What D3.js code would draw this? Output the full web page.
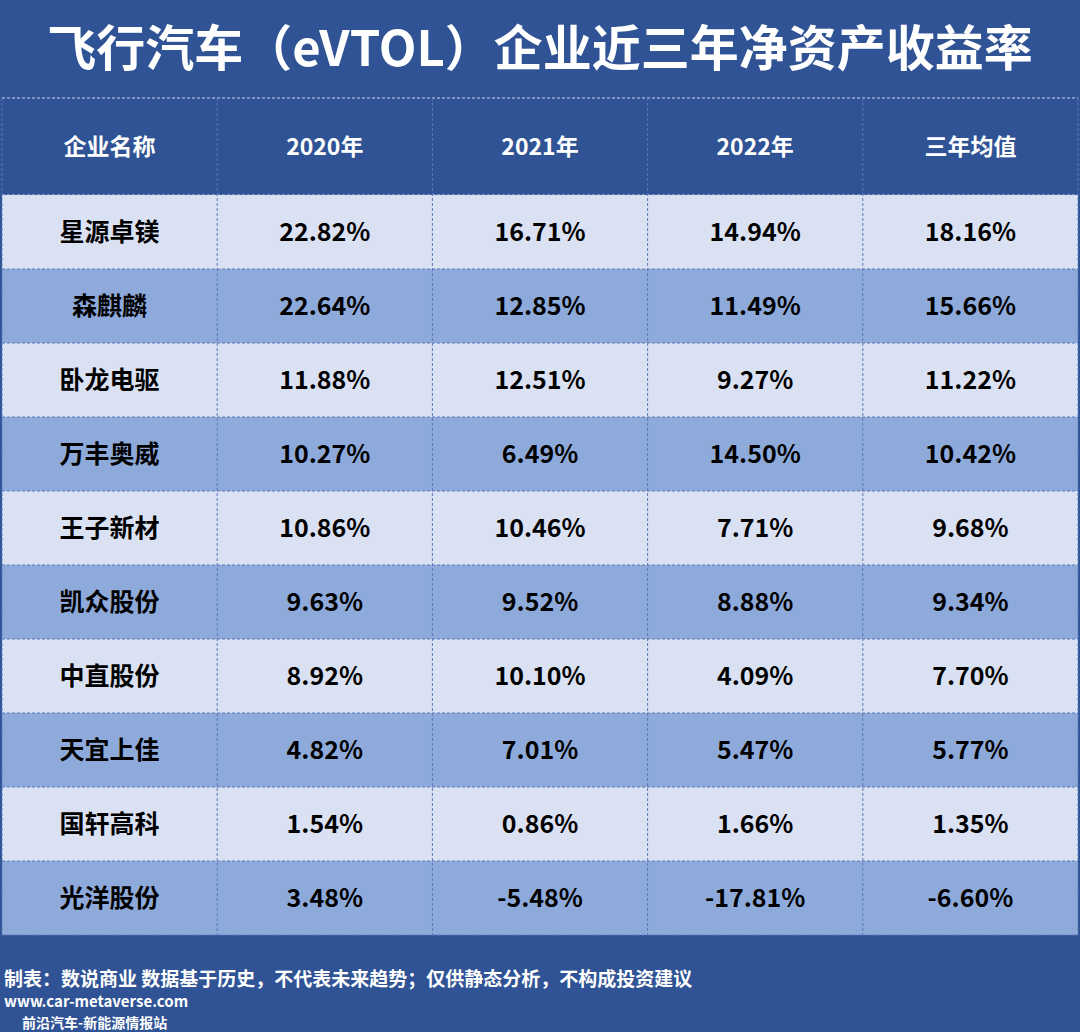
<!DOCTYPE html><html><head><meta charset="utf-8">
<script src="https://cdn.jsdelivr.net/npm/d3@7"></script>
<style>body{margin:0;background:#2f5395}</style></head><body>
<script>
const columns=["企业名称","2020年","2021年","2022年","三年均值"];
const companies=["星源卓镁","森麒麟","卧龙电驱","万丰奥威","王子新材","凯众股份","中直股份","天宜上佳","国轩高科","光洋股份"];
const v2020=["22.82%","22.64%","11.88%","10.27%","10.86%","9.63%","8.92%","4.82%","1.54%","3.48%"];
const v2021=["16.71%","12.85%","12.51%","6.49%","10.46%","9.52%","10.10%","7.01%","0.86%","-5.48%"];
const v2022=["14.94%","11.49%","9.27%","14.50%","7.71%","8.88%","4.09%","5.47%","1.66%","-17.81%"];
const vAvg=["18.16%","15.66%","11.22%","10.42%","9.68%","9.34%","7.70%","5.77%","1.35%","-6.60%"];
const W=1080,H=1032;
const font="'Noto Sans CJK SC','Open Sans',sans-serif";
const svg=d3.select("body").append("svg").attr("width",W).attr("height",H);
svg.append("rect").attr("width",W).attr("height",H).attr("fill","#2f5395");
svg.append("text").attr("x",W/2).attr("y",66).attr("text-anchor","middle").attr("fill","#fff")
 .attr("font-family",font).attr("font-weight",700).attr("font-size",49).text("飞行汽车（eVTOL）企业近三年净资产收益率");
const x=d3.scaleBand().domain(d3.range(5)).range([2,1078]);
const headTop=98,headBot=195;
const y=d3.scaleBand().domain(d3.range(10)).range([headBot,935]);
const rows=companies.map((c,i)=>[c,v2020[i],v2021[i],v2022[i],vAvg[i]]);
const g=svg.append("g");
rows.forEach((r,i)=>{
 g.append("rect").attr("x",2).attr("y",y(i)).attr("width",1076).attr("height",y.bandwidth())
  .attr("fill",i%2?"#8eaadb":"#dae1f3");
 r.forEach((t,j)=>g.append("text").attr("x",x(j)+x.bandwidth()/2).attr("y",y(i)+y.bandwidth()/2+9)
  .attr("text-anchor","middle").attr("font-family",font).attr("font-weight",700).attr("font-size",25).attr("fill","#000").text(t));
});
columns.forEach((t,j)=>g.append("text").attr("x",x(j)+x.bandwidth()/2).attr("y",(headTop+headBot)/2+8)
 .attr("text-anchor","middle").attr("font-family",font).attr("font-weight",700).attr("font-size",23).attr("fill","#fff").text(t));
const hl=[headTop].concat(d3.range(10).map(i=>y(i)),[935]);
hl.forEach((yy,i)=>g.append("line").attr("x1",2).attr("x2",1078).attr("y1",yy).attr("y2",yy).attr("stroke",i<=1?"#c9d4ee":"#5a78b8").attr("stroke-dasharray","3,2"));
for(let j=0;j<=5;j++){const xx=j===5?1078:x(j);
 g.append("line").attr("x1",xx).attr("x2",xx).attr("y1",headTop).attr("y2",935).attr("stroke","#5a78b8").attr("stroke-dasharray","3,2");}
svg.append("text").attr("x",4).attr("y",986).attr("fill","#fff").attr("font-family",font).attr("font-weight",700).attr("font-size",19)
 .text("制表：数说商业 数据基于历史，不代表未来趋势；仅供静态分析，不构成投资建议");
svg.append("text").attr("x",4).attr("y",1007).attr("fill","#fff").attr("font-family",font).attr("font-weight",700).attr("font-size",15).text("www.car-metaverse.com");
svg.append("text").attr("x",22).attr("y",1028).attr("fill","#fff").attr("font-family",font).attr("font-weight",700).attr("font-size",14).text("前沿汽车-新能源情报站");
</script></body></html>
